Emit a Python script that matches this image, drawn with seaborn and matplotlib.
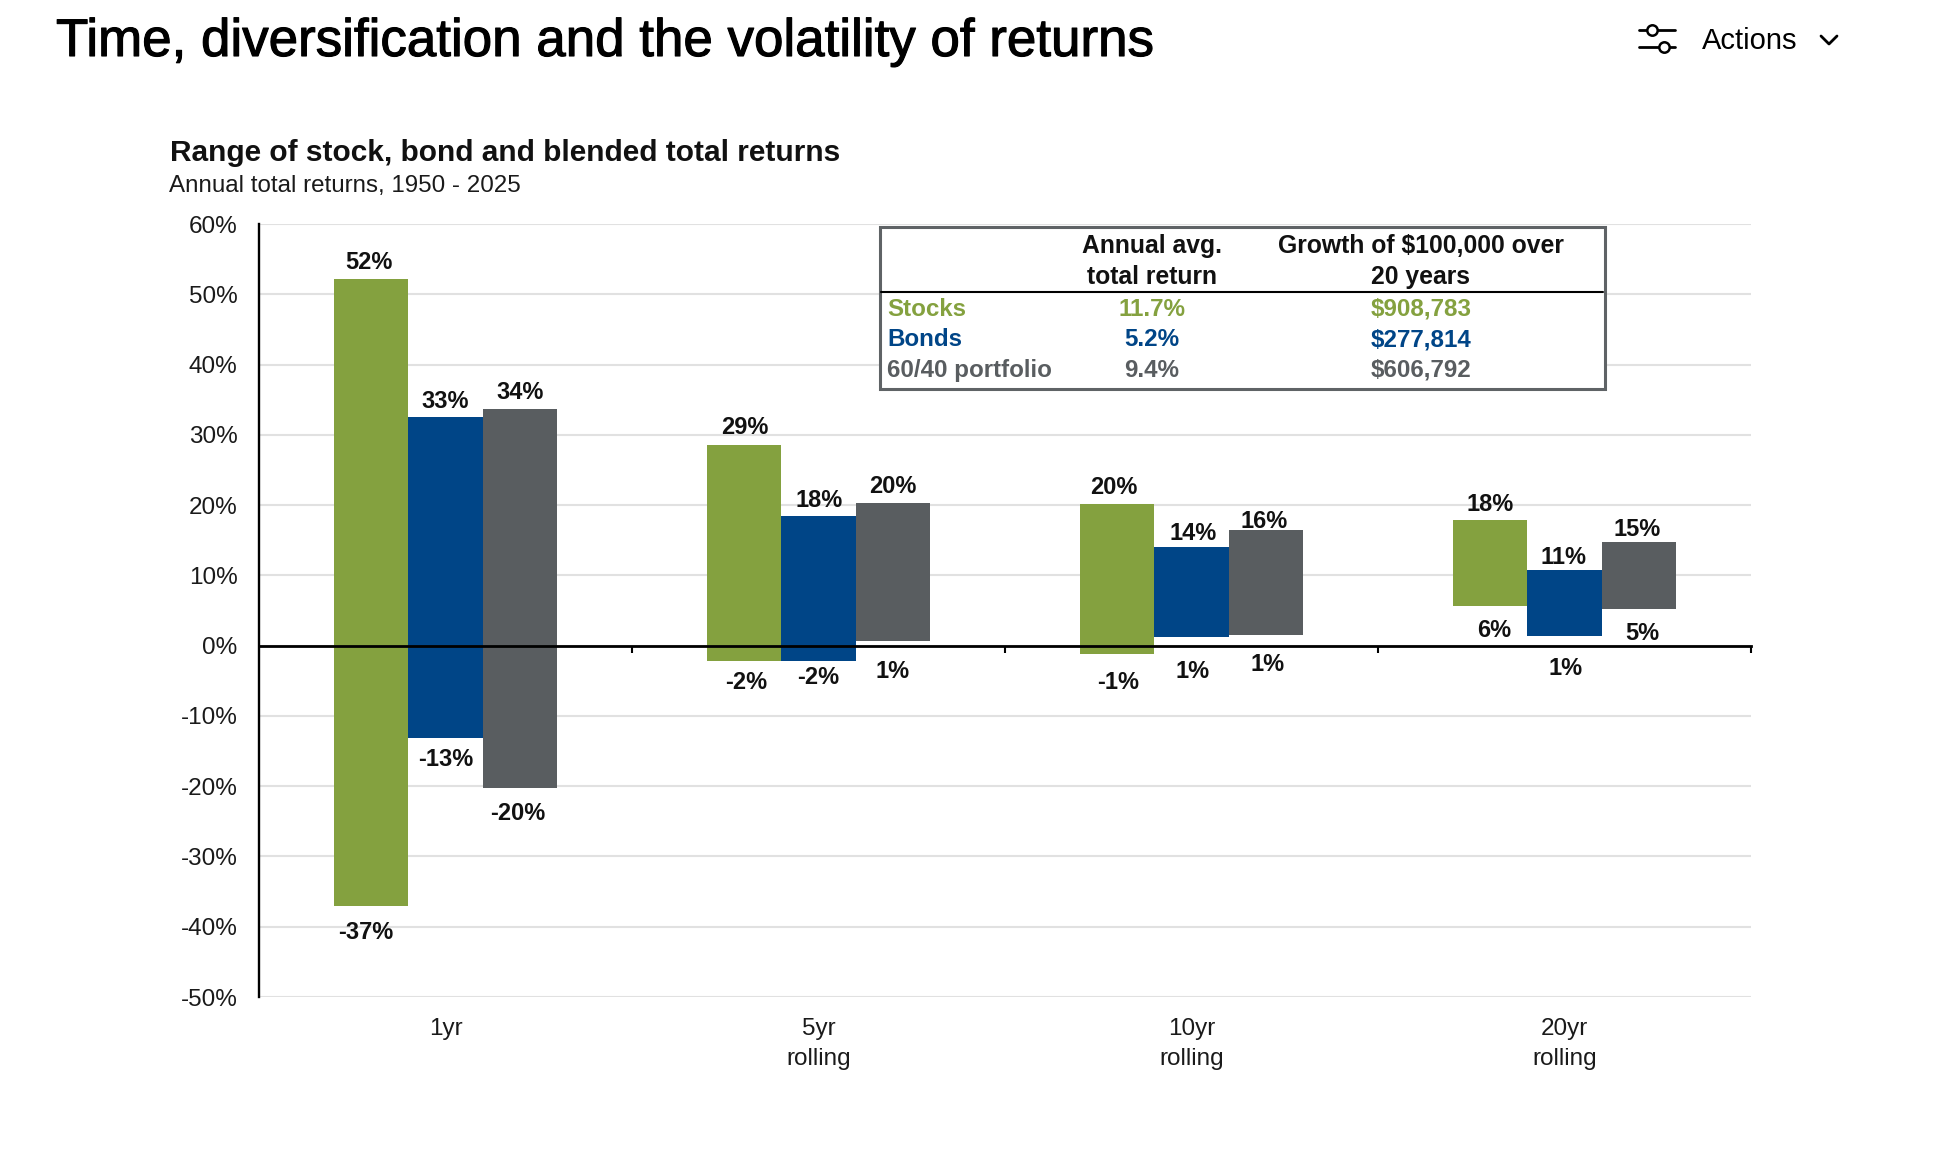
import matplotlib
matplotlib.use("Agg")
import matplotlib.pyplot as plt
import matplotlib.patheffects as pe
from matplotlib.lines import Line2D
from matplotlib.patches import Rectangle
from matplotlib.ticker import FixedLocator
import pandas as pd
import seaborn as sns

# ---- data ----
periods = ["1yr", "5yr\nrolling", "10yr\nrolling", "20yr\nrolling"]
series_names = ["Stocks", "Bonds", "60/40 portfolio"]
stocks_high = [52.2, 28.6, 20.1, 17.9]
stocks_low = [-37.1, -2.2, -1.2, 5.6]
bonds_high = [32.5, 18.4, 14.1, 10.7]
bonds_low = [-13.2, -2.2, 1.2, 1.4]
blend_high = [33.7, 20.3, 16.4, 14.7]
blend_low = [-20.3, 0.6, 1.5, 5.2]
stocks_high_lbl = ["52%", "29%", "20%", "18%"]
stocks_low_lbl = ["-37%", "-2%", "-1%", "6%"]
bonds_high_lbl = ["33%", "18%", "14%", "11%"]
bonds_low_lbl = ["-13%", "-2%", "1%", "1%"]
blend_high_lbl = ["34%", "20%", "16%", "15%"]
blend_low_lbl = ["-20%", "1%", "1%", "5%"]
y_ticks = [60, 50, 40, 30, 20, 10, 0, -10, -20, -30, -40, -50]
table_head_1 = ["Annual avg.\ntotal return", "Growth of $100,000 over\n20 years"]
table_rows = [("Stocks", "11.7%", "$908,783"),
              ("Bonds", "5.2%", "$277,814"),
              ("60/40 portfolio", "9.4%", "$606,792")]

# label placement relative to the bar end, in pixels
high_dy = [[16, 17, 16.5, 15.5], [16, 15.5, 13.5, 12.5], [16, 16.5, 8.5, 12.5]]
low_dy = [[26, 21, 28, 24], [21, 16, 34, 32.5], [25, 30, 29, 24.5]]
high_dx = [[-1.5, 0.5, -3, 0.5], [0, 1, 1.5, -1], [0, 0, -2, -2]]
low_dx = [[-5, 2, 1, 4], [0, 0, 1.5, 1.5], [-2.5, -1, 1, 3]]

GREEN, BLUE, GRAY = "#84A13F", "#004587", "#595D60"
colors = [GREEN, BLUE, GRAY]
W, H = 1945, 1172
INK = "#111111"

sns.set_theme(style="white")
plt.rcParams["font.family"] = ["Liberation Sans", "DejaVu Sans"]
plt.rcParams["text.color"] = INK

fig = plt.figure(figsize=(W / 100, H / 100), dpi=100, facecolor="white")
L, R, T, B = 259, 1751, 224, 997
ax = fig.add_axes([L / W, 1 - B / H, (R - L) / W, (B - T) / H])

highs = [stocks_high, bonds_high, blend_high]
lows = [stocks_low, bonds_low, blend_low]
df = pd.DataFrame({
    "period": periods * 3,
    "series": [s for s in series_names for _ in periods],
    "high": stocks_high + bonds_high + blend_high,
})
sns.barplot(data=df, x="period", y="high", hue="series", order=periods,
            hue_order=series_names, palette=colors, width=0.6, gap=0,
            saturation=1, legend=False, linewidth=0, ax=ax)

# the bars span the low-to-high range
for cont, hi, lo in zip(ax.containers, highs, lows):
    for patch, h, l in zip(cont, hi, lo):
        patch.set_y(l)
        patch.set_height(h - l)

ax.set_xlim(-0.5, 3.5)
ax.set_ylim(-50, 60)
ax.set_xlabel("")
ax.set_ylabel("")
ax.set_yticks(y_ticks)
ax.set_yticklabels([f"{v}%" for v in y_ticks], va="center_baseline")
ax.set_axisbelow(True)
ax.yaxis.grid(True, color="#E1E1E1", lw=1.5)
ax.xaxis.grid(False)

for s in ["top", "right"]:
    ax.spines[s].set_visible(False)
ax.spines["left"].set_color("black")
ax.spines["left"].set_linewidth(1.7)
ax.spines["bottom"].set_position(("data", 0))
ax.spines["bottom"].set_color("black")
ax.spines["bottom"].set_linewidth(2.0)

ax.xaxis.set_minor_locator(FixedLocator([0.5, 1.5, 2.5, 3.5]))
ax.tick_params(axis="x", which="minor", length=5, width=1.5, color="black", bottom=True)
ax.tick_params(axis="x", which="major", length=0, pad=268, labelsize=17.5, labelcolor="#1a1a1a")
ax.tick_params(axis="y", length=0, pad=15.5, labelsize=17.5, labelcolor="#1a1a1a")
ax.set_xticks(range(len(periods)))
ax.set_xticklabels(periods, linespacing=1.45, va="top")

# value labels
high_lbls = [stocks_high_lbl, bonds_high_lbl, blend_high_lbl]
low_lbls = [stocks_low_lbl, bonds_low_lbl, blend_low_lbl]
for k, cont in enumerate(ax.containers):
    for i, patch in enumerate(cont):
        xc = patch.get_x() + patch.get_width() / 2
        ax.annotate(high_lbls[k][i], (xc, highs[k][i]),
                    xytext=(high_dx[k][i], high_dy[k][i]), textcoords="offset pixels",
                    ha="center", va="center", fontsize=17, fontweight="bold", color=INK)
        ax.annotate(low_lbls[k][i], (xc, lows[k][i]),
                    xytext=(low_dx[k][i], -low_dy[k][i]), textcoords="offset pixels",
                    ha="center", va="center", fontsize=17, fontweight="bold", color=INK)

# overlay in pixel coordinates for page furniture and the inset table
ov = fig.add_axes([0, 0, 1, 1], facecolor="none")
ov.set_xlim(0, W)
ov.set_ylim(H, 0)
ov.axis("off")

title = ov.text(56, 42, "Time, diversification and the volatility of returns",
                fontsize=38.1, va="center", ha="left", color="black")
title.set_path_effects([pe.withStroke(linewidth=0.8, foreground="black")])
ov.text(1702, 41, "Actions", fontsize=21, va="center", ha="left", color="black")
for yy, cx in [(30, 1652), (47, 1664)]:
    ov.add_line(Line2D([1639, 1675], [yy, yy], color="black", lw=2))
    ov.plot([cx], [yy], "o", ms=7.5, mfc="white", mec="black", mew=1.8)
ov.add_line(Line2D([1821, 1829, 1837], [36, 44, 36], color="black", lw=2))

ov.text(170, 153, "Range of stock, bond and blended total returns",
        fontsize=21.5, fontweight="bold", va="center", ha="left", color=INK)
ov.text(169, 186, "Annual total returns, 1950 - 2025",
        fontsize=17.4, va="center", ha="left", color="#1a1a1a")

ov.add_patch(Rectangle((880, 227), 725.5, 162, fc="white", ec="#5F6366", lw=2.2))
ov.add_line(Line2D([881, 1603], [292, 292], color="black", lw=1.5))
col_x = [1152, 1421]
head_x = [1153, 1422]
for cx, head in zip(head_x, table_head_1):
    ov.text(cx - 1, 261.5, head, fontsize=17.8, fontweight="bold", ha="center", va="center",
            linespacing=1.42, color=INK)
for (name, ret, growth), yy, col in zip(table_rows, [309, 339.5, 370.5], colors):
    weight = "bold"
    ov.text(887, yy, name, fontsize=17.4, fontweight=weight, ha="left", va="center", color=col)
    ov.text(col_x[0], yy, ret, fontsize=17.4, fontweight=weight, ha="center", va="center", color=col)
    ov.text(col_x[1], yy, growth, fontsize=17.4, fontweight=weight, ha="center", va="center", color=col)

fig.savefig("out.png", dpi=100)
